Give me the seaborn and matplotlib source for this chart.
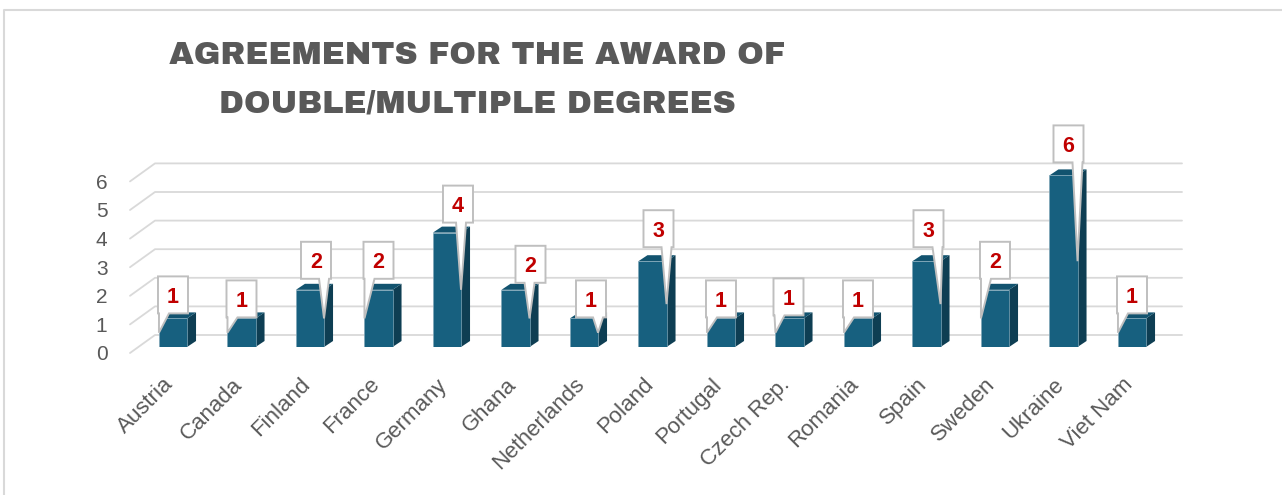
import numpy as np
import pandas as pd
import seaborn as sns
import matplotlib.pyplot as plt
import matplotlib.transforms as mtransforms
from matplotlib.patches import Polygon
from matplotlib.lines import Line2D

countries = ['Austria', 'Canada', 'Finland', 'France', 'Germany', 'Ghana', 'Netherlands', 'Poland',
             'Portugal', 'Czech Rep.', 'Romania', 'Spain', 'Sweden', 'Ukraine', 'Viet Nam']
agreements = [1, 1, 2, 2, 4, 2, 1, 3, 1, 1, 1, 3, 2, 6, 1]
y_ticks = [0, 1, 2, 3, 4, 5, 6]
title_lines = ['AGREEMENTS FOR THE AWARD OF', 'DOUBLE/MULTIPLE DEGREES']

# callout layout in pixels: box shift from bar centre, gap between bar top and box
callout_dx = [0, 0, 6, 0, 11, 15, 7, 6, 0, -1, 0, 2, 0, 5, 0]
callout_gap = [5, 1, 11, 11, 10, 7, 1, 14, 1, 3, 1, 14, 11, 13, 5]

FRONT = '#17607F'
SIDE = '#0E3E53'
TOP = '#12536F'
GRID = '#D9D9D9'
TEXT = '#595959'
SANS = ['Arimo', 'Liberation Sans', 'DejaVu Sans']
HEAVY = ['Archivo Black', 'DejaVu Sans']

sns.set_theme(style='white')
plt.rcParams['font.family'] = SANS

W, H = 1282, 495
fig = plt.figure(figsize=(W / 100, H / 100), dpi=100)
ax = fig.add_axes([131 / W, 148 / H, 1051 / W, 185.9 / H])

df = pd.DataFrame({'country': countries, 'agreements': agreements})
sns.barplot(data=df, x='country', y='agreements', color=FRONT, saturation=1, width=0.41,
            edgecolor='#7FA6B8', linewidth=0.5, zorder=3, ax=ax)
ax.set_xlim(-0.613, 14.73)
ax.set_ylim(0, 6.5)
ax.set_xlabel('')
ax.set_ylabel('')
for s in ax.spines.values():
    s.set_visible(False)

ident = mtransforms.IdentityTransform()
px = lambda x, y: mtransforms.ScaledTranslation(x / 100, y / 100, fig.dpi_scale_trans)

# y ticks sit on the front edge of the side wall
ax.set_yticks(y_ticks)
ax.tick_params(axis='y', length=0, pad=17, labelsize=15, labelcolor=TEXT)
for lab in ax.get_yticklabels():
    lab.set_transform(lab.get_transform() + px(0, -6))

ax.set_xticks(range(len(countries)))
ax.set_xticklabels(countries, rotation=45, ha='right', va='top', rotation_mode='anchor')
ax.tick_params(axis='x', length=0, pad=0, labelsize=16, labelcolor=TEXT)
for lab in ax.get_xticklabels():
    lab.set_transform(lab.get_transform() + px(-10, -27))

# 3d-look wall and gridlines
left_px = ax.transAxes.transform((0, 0))[0]
right_px = ax.transAxes.transform((1, 0))[0]
for v in y_ticks:
    y0 = ax.transData.transform((0, v))[1]
    ax.add_line(Line2D([left_px - 1, left_px + 24, right_px], [y0 - 6, y0 + 12, y0 + 12],
                       transform=ident, color=GRID, lw=1.3, clip_on=False, zorder=1))

# bar depth: side and top faces
dx, dy = 9, 6
bars = ax.patches[:len(agreements)]
for p in bars:
    (xl, yb), (xr, yt) = ax.transData.transform([(p.get_x(), 0), (p.get_x() + p.get_width(), p.get_height())])
    ax.add_patch(Polygon([(xr, yb), (xr + dx, yb + dy), (xr + dx, yt + dy), (xr, yt)],
                         transform=ident, fc=SIDE, ec='none', zorder=2.9, clip_on=False))
    ax.add_patch(Polygon([(xl, yt), (xl + dx, yt + dy), (xr + dx, yt + dy), (xr, yt)],
                         transform=ident, fc=TOP, ec='none', zorder=2.9, clip_on=False))

# value callouts
bw, bh = 30, 37
for i, (p, v) in enumerate(zip(bars, agreements)):
    cx = p.get_x() + p.get_width() / 2
    xc, yt = ax.transData.transform((cx, v))
    bx = xc + callout_dx[i]
    b0 = yt + callout_gap[i]
    b1 = b0 + bh
    l, r = bx - bw / 2, bx + bw / 2
    right_side = callout_dx[i] > 1
    edge = p.get_x() + (p.get_width() if right_side else 0)
    tip_x, tip_y = ax.transData.transform((edge, v / 2))
    base = np.clip(tip_x, l + 6, r - 6)
    verts = [(l, b1), (r, b1), (r, b0), (base + 5, b0), (tip_x, tip_y), (base - 5, b0), (l, b0)]
    ax.add_patch(Polygon(verts, closed=True, transform=ident, fc='white', ec='#BFBFBF',
                         lw=1.4, zorder=6, clip_on=False))
    ax.text(bx, (b0 + b1) / 2 - 8, str(v), transform=ident, ha='center', va='baseline',
            color='#C00000', fontsize=15.5, fontweight='bold', zorder=7)

# chart border
fig.add_artist(Line2D([4, 4, W], [0, H - 10, H - 10], transform=ident, color=GRID, lw=1.5))

# two-line title, baselines at 64 px and 112 px from the top
for line, base_y in zip(title_lines, [64, 112]):
    fig.text(477 / W, 1 - base_y / H, line, ha='center', va='baseline', fontsize=23,
             color=TEXT, family=HEAVY)

fig.savefig('out.png', dpi=100)
